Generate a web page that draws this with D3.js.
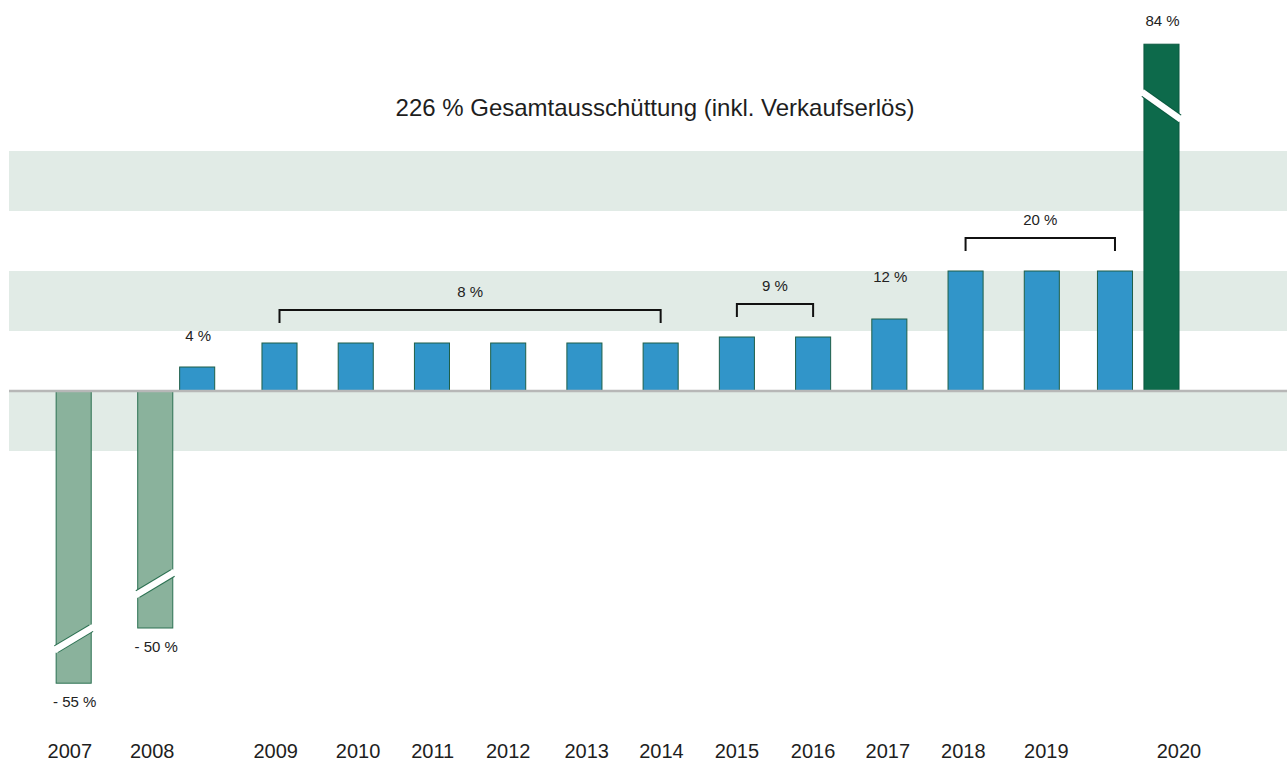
<!DOCTYPE html>
<html>
<head>
<meta charset="utf-8">
<script src="https://cdn.jsdelivr.net/npm/d3@7"></script>
<style>
  body { margin: 0; background: #fff; }
  svg { display: block; font-family: "Liberation Sans", Arial, sans-serif; }
</style>
</head>
<body>
<div id="chart"></div>
<script>
'use strict';

// --- data ---
const barKeys   = ['2007', '2008', '2008b', '2009', '2010', '2011', '2012', '2013', '2014',
                   '2015', '2016', '2017', '2018', '2019', '2019b', '2020'];
const barValues = [-55, -50, 4, 8, 8, 8, 8, 8, 8, 9, 9, 12, 20, 20, 20, 84];
const barKinds  = ['loss', 'loss', 'payout', 'payout', 'payout', 'payout', 'payout', 'payout', 'payout',
                   'payout', 'payout', 'payout', 'payout', 'payout', 'payout', 'sale'];
// horizontal slot of each bar (1 = one bar pitch, 0 = 2009)
const barSlots  = [-2.70, -1.63, -1.08, 0, 1, 2, 3, 4, 5, 6, 7, 8, 9, 10, 10.96, 11.57];

// bars with a broken (shortened) drawing: where the drawn bar stops on the axis
const brokenKeys   = ['2007', '2008', '2020'];
const brokenDrawTo = [-48.7, -39.5, 57.8];

const yearLabels = ['2007', '2008', '2009', '2010', '2011', '2012', '2013', '2014',
                    '2015', '2016', '2017', '2018', '2019', '2020'];
const yearSlots  = [-2.75, -1.67, -0.05, 1.03, 2.01, 3.0, 4.03, 5.01, 6.0, 7.0, 7.98, 8.97, 10.06, 11.8];

// single value labels
const singleKeys   = ['2007', '2008', '2008b', '2017', '2020'];
const singleLabels = ['- 55 %', '- 50 %', '4 %', '12 %', '84 %'];

// bracketed group labels
const groupFrom   = ['2009', '2015', '2018'];
const groupTo     = ['2014', '2016', '2019b'];
const groupLabels = ['8 %', '9 %', '20 %'];

const bandStarts = [-10, 10, 30];   // shaded 10 % stripes
const title = '226 % Gesamtausschüttung (inkl. Verkaufserlös)';

// --- layout ---
const W = 1287, H = 762;
const colors = { loss: '#8ab29c', payout: '#3195c9', sale: '#0d6a4b' };
const strokes = { loss: '#2c7152', payout: '#1f5f48', sale: '#0b5a40' };

const svg = d3.select('#chart').append('svg')
    .attr('width', W).attr('height', H)
    .attr('viewBox', `0 0 ${W} ${H}`);

const x = d3.scaleLinear().domain([0, 10]).range([279.5, 1041.8]);
const y = d3.scaleLinear().domain([-10, 40]).range([451, 151]);
const barW = (x(1) - x(0)) * 0.46;

const bars = barKeys.map((k, i) => {
    let bi = brokenKeys.indexOf(k);
    return {
        key: k, value: barValues[i], kind: barKinds[i], slot: barSlots[i],
        drawTo: bi > -1 ? brokenDrawTo[bi] : barValues[i], broken: bi > -1
    };
});
const byKey = {};
bars.forEach(d => byKey[d.key] = d);

// background stripes
svg.append('g').selectAll('rect').data(bandStarts).join('rect')
    .attr('x', 9).attr('width', W - 9)
    .attr('y', d => y(d + 10)).attr('height', d => y(d) - y(d + 10))
    .attr('fill', '#e1ebe6');

// title
svg.append('text')
    .attr('x', 655).attr('y', 116)
    .attr('text-anchor', 'middle')
    .attr('font-size', 24).attr('fill', '#1e1e1e')
    .text(title);

// bars
svg.append('g').selectAll('rect').data(bars).join('rect')
    .attr('x', d => x(d.slot) - barW / 2)
    .attr('width', barW)
    .attr('y', d => y(Math.max(0, d.drawTo)))
    .attr('height', d => Math.abs(y(d.drawTo) - y(0)))
    .attr('fill', d => colors[d.kind])
    .attr('stroke', d => strokes[d.kind])
    .attr('stroke-width', 1);

// break marks on shortened bars (slanted gap, outlined pieces)
function breakLine(d, ext) {
    let end = y(d.drawTo);
    let dir = d.drawTo < 0 ? -1 : 1;        // towards zero line in pixels
    let near = d.drawTo < 0 ? 34 : 49;      // distance from bar end, left side
    let far = d.drawTo < 0 ? 55 : 74;       // distance from bar end, right side
    let k = ext / barW * (far - near);
    return {
        x1: x(d.slot) - barW / 2 - ext, y1: end + dir * (near - k),
        x2: x(d.slot) + barW / 2 + ext, y2: end + dir * (far + k)
    };
}
const broken = bars.filter(d => d.broken);
[{ ext: 0, w: 8.5, c: d => strokes[d.kind] }, { ext: 2, w: 6.5, c: () => '#fff' }].forEach(s => {
    svg.append('g').selectAll('line').data(broken).join('line')
        .each(function (d) {
            let p = breakLine(d, s.ext);
            d3.select(this).attr('x1', p.x1).attr('y1', p.y1).attr('x2', p.x2).attr('y2', p.y2);
        })
        .attr('stroke', s.c).attr('stroke-width', s.w);
});

// zero line
svg.append('line')
    .attr('x1', 9).attr('x2', W)
    .attr('y1', y(0)).attr('y2', y(0))
    .attr('stroke', '#b7b7b7').attr('stroke-width', 2.5);

// single value labels
const labelGap = { '2008b': 26, '2017': 37, '2020': 18 };
svg.append('g').selectAll('text').data(singleKeys).join('text')
    .attr('x', k => x(byKey[k].slot) + 1)
    .attr('y', k => {
        let d = byKey[k];
        return d.drawTo < 0 ? y(d.drawTo) + 24 : y(d.drawTo) - (labelGap[k] || 26);
    })
    .attr('text-anchor', 'middle')
    .attr('font-size', 15).attr('fill', '#222')
    .text((k, i) => singleLabels[i]);

// brackets with group labels
const brackets = groupLabels.map((lab, i) => {
    let a = byKey[groupFrom[i]], b = byKey[groupTo[i]];
    let i0 = barKeys.indexOf(groupFrom[i]), i1 = barKeys.indexOf(groupTo[i]);
    let top = d3.max(barValues.slice(i0, i1 + 1));
    return { label: lab, x0: x(a.slot), x1: x(b.slot), yl: y(top) - 33 };
});
const bg = svg.append('g').selectAll('g').data(brackets).join('g');
bg.append('path')
    .attr('d', d => `M${d.x0},${d.yl + 13}V${d.yl}H${d.x1}V${d.yl + 13}`)
    .attr('fill', 'none').attr('stroke', '#111').attr('stroke-width', 2);
bg.append('text')
    .attr('x', d => (d.x0 + d.x1) / 2)
    .attr('y', d => d.yl - 13)
    .attr('text-anchor', 'middle')
    .attr('font-size', 15).attr('fill', '#222')
    .text(d => d.label);

// year labels
svg.append('g').selectAll('text').data(yearLabels).join('text')
    .attr('x', (d, i) => x(yearSlots[i]))
    .attr('y', 757.5)
    .attr('text-anchor', 'middle')
    .attr('font-size', 20).attr('fill', '#1e1e1e')
    .text(d => d);
</script>
</body>
</html>
